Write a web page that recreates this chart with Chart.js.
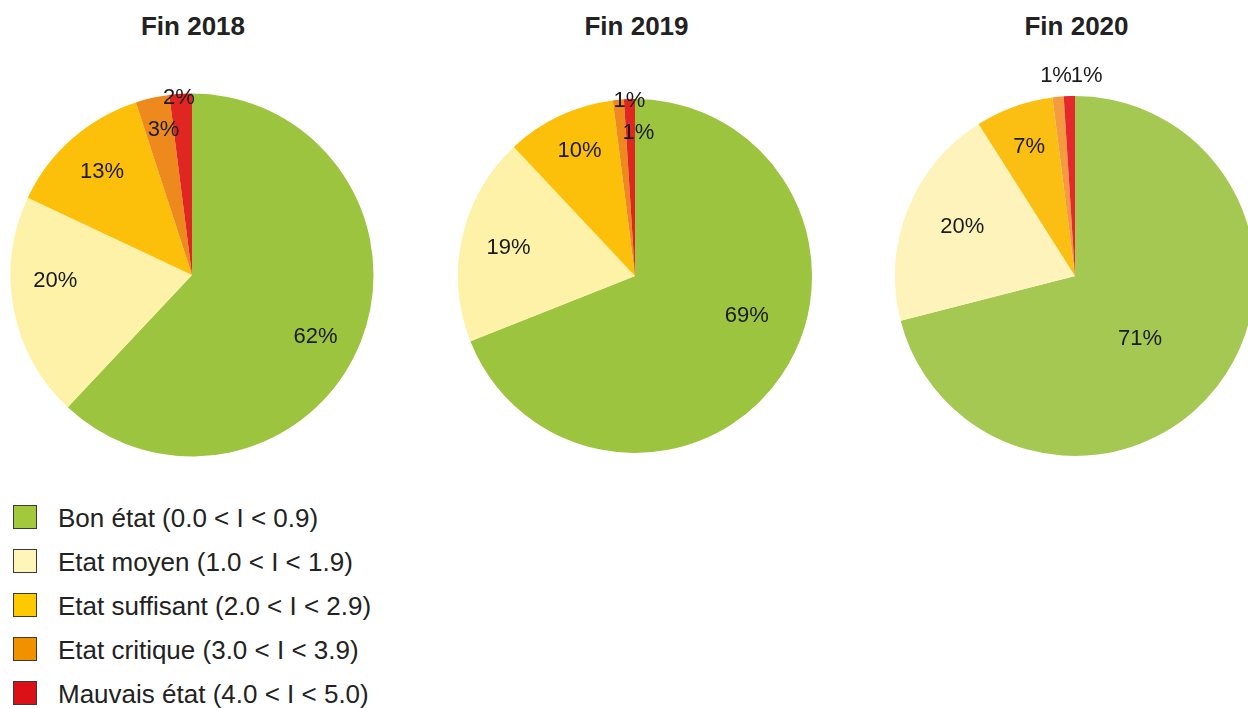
<!DOCTYPE html>
<html>
<head>
<meta charset="utf-8">
<script src="https://cdn.jsdelivr.net/npm/chart.js@4.4.1/dist/chart.umd.min.js"></script>
<style>
  html, body { margin: 0; padding: 0; background: #fff; overflow: hidden; }
  body { width: 1248px; height: 708px; position: relative; font-family: "Liberation Sans", Arial, sans-serif; color: #222; }
  .title { position: absolute; width: 300px; text-align: center; font-weight: bold; font-size: 26px; line-height: 30px; top: 11px; }
  .pie { position: absolute; width: 400px; height: 440px; }
  .row { position: absolute; left: 0; height: 30px; font-size: 26px; line-height: 30px; white-space: nowrap; }
  .row .box { position: absolute; left: 13px; top: 2px; width: 22px; height: 22px; border: 1.5px solid #3a3a3a; }
  .row .txt { position: absolute; left: 58px; top: 0; }
</style>
</head>
<body>
<script>
// categories and values (percent)
const categories = [
  "Bon état (0.0 < I < 0.9)",
  "Etat moyen (1.0 < I < 1.9)",
  "Etat suffisant (2.0 < I < 2.9)",
  "Etat critique (3.0 < I < 3.9)",
  "Mauvais état (4.0 < I < 5.0)"
];
const titles = ["Fin 2018", "Fin 2019", "Fin 2020"];
const values2018 = [62, 20, 13, 3, 2];
const values2019 = [69, 19, 10, 1, 1];
const values2020 = [71, 20, 7, 1, 1];

const legendColors = ["#a2c83b", "#fff5b8", "#ffc900", "#f29100", "#dc1017"];
const colorsOld = ["#9cc43e", "#fdf2a8", "#fcbf0a", "#ee8a1d", "#e02620"];
const colorsNew = ["#a4c852", "#fff3bc", "#fbbf14", "#f39b3e", "#e5282b"];

// label placement: fraction of radius + pixel nudge
const pies = [
  { values: values2018, colors: colorsOld, cx: 191.5, cy: 274.5, r: 181.5,
    lab: [[.75, -3, 12], [.75, -3, -20], [.75, 0, -1], [.82, 4, 0], [.98, -2, 0]] },
  { values: values2019, colors: colorsOld, cx: 635, cy: 276, r: 177,
    lab: [[.75, 2, -35], [.75, 3, 1], [.75, 1, -5], [.81, 17, 0], [.99, 0, 0]] },
  { values: values2020, colors: colorsNew, cx: 1075, cy: 276, r: 180,
    lab: [[.5, -6, 8], [.68, 1, -4], [.77, 1, 1], [1.12, 0, 1], [1.12, 18, 1]] }
];

const pctLabels = {
  id: "pctLabels",
  afterDatasetsDraw(chart, args, opts) {
    const ctx = chart.ctx;
    const meta = chart.getDatasetMeta(0);
    const vals = chart.data.datasets[0].data;
    ctx.save();
    ctx.font = "22px 'Liberation Sans', Arial, sans-serif";
    ctx.fillStyle = "#1a1a1a";
    ctx.textAlign = "center";
    ctx.textBaseline = "middle";
    meta.data.forEach((arc, i) => {
      const p = arc.getProps(["x", "y", "startAngle", "endAngle", "outerRadius"], true);
      const mid = (p.startAngle + p.endAngle) / 2;
      const [f, dx, dy] = opts.pos[i];
      const x = p.x + Math.cos(mid) * p.outerRadius * f + dx;
      const y = p.y + Math.sin(mid) * p.outerRadius * f + dy;
      ctx.fillText(vals[i] + "%", x, y);
    });
    ctx.restore();
  }
};

pies.forEach((p, k) => {
  const t = document.createElement("div");
  t.className = "title";
  t.style.left = (p.cx + 1.5 - 150) + "px";
  t.textContent = titles[k];
  document.body.appendChild(t);

  const wrap = document.createElement("div");
  wrap.className = "pie";
  wrap.style.left = (p.cx - 200) + "px";
  wrap.style.top = (p.cy - 220) + "px";
  const cv = document.createElement("canvas");
  cv.width = 400;
  cv.height = 440;
  wrap.appendChild(cv);
  document.body.appendChild(wrap);

  new Chart(cv.getContext("2d"), {
    type: "pie",
    data: {
      labels: categories,
      datasets: [{
        data: p.values,
        backgroundColor: p.colors,
        borderWidth: 0,
        hoverBorderWidth: 0,
        hoverOffset: 0,
        offset: 0
      }]
    },
    options: {
      responsive: false,
      animation: false,
      radius: p.r,
      layout: { padding: 0 },
      events: [],
      plugins: {
        legend: { display: false },
        tooltip: { enabled: false },
        pctLabels: { pos: p.lab }
      }
    },
    plugins: [pctLabels]
  });
});

// legend
categories.forEach((c, i) => {
  const row = document.createElement("div");
  row.className = "row";
  row.style.top = (503 + i * 44) + "px";
  const box = document.createElement("span");
  box.className = "box";
  box.style.background = legendColors[i];
  const txt = document.createElement("span");
  txt.className = "txt";
  txt.textContent = c;
  row.appendChild(box);
  row.appendChild(txt);
  document.body.appendChild(row);
});
</script>
</body>
</html>
